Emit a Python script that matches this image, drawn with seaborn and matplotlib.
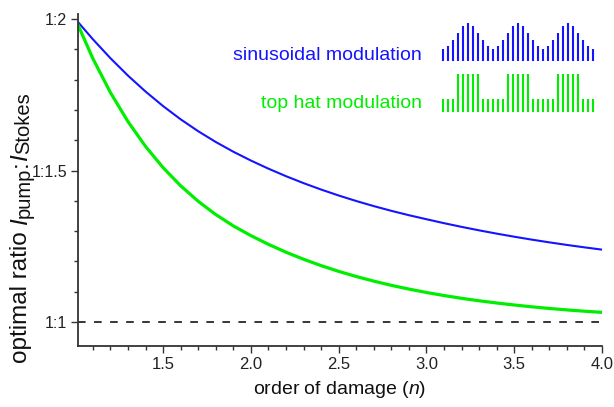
import numpy as np
import pandas as pd
import matplotlib
matplotlib.use("Agg")
import matplotlib.pyplot as plt
import seaborn as sns
from matplotlib.ticker import MultipleLocator, FuncFormatter, FormatStrFormatter

# ---- data ----
order_n = [1.0, 1.1, 1.2, 1.3, 1.4, 1.5, 1.6, 1.7, 1.8, 1.9, 2.0,
           2.1, 2.2, 2.3, 2.4, 2.5, 2.6, 2.7, 2.8, 2.9, 3.0,
           3.1, 3.2, 3.3, 3.4, 3.5, 3.6, 3.7, 3.8, 3.9, 4.0]
sinusoidal = [2.0000, 1.9330, 1.8705, 1.8130, 1.7605, 1.7125, 1.6689, 1.6296, 1.5941, 1.5620, 1.5329,
              1.5061, 1.4813, 1.4584, 1.4372, 1.4176, 1.3994, 1.3826, 1.3670, 1.3526, 1.3393,
              1.3263, 1.3141, 1.3026, 1.2918, 1.2816, 1.2720, 1.2630, 1.2545, 1.2465, 1.2390]
top_hat = [2.0000, 1.8690, 1.7570, 1.6612, 1.5793, 1.5093, 1.4495, 1.3983, 1.3546, 1.3172, 1.2852,
           1.2564, 1.2305, 1.2072, 1.1862, 1.1673, 1.1503, 1.1350, 1.1212, 1.1088, 1.0976,
           1.0875, 1.0784, 1.0702, 1.0629, 1.0563, 1.0503, 1.0449, 1.0401, 1.0358, 1.0319]
reference_level = 1.0

series_labels = ["sinusoidal modulation", "top hat modulation"]
y_ticks = [1.0, 1.5, 2.0]
x_ticks = [1.5, 2.0, 2.5, 3.0, 3.5, 4.0]

# legend glyph heights (relative)
sin_glyph = [0.32, 0.41, 0.57, 0.75, 0.93, 1.00, 0.93, 0.75, 0.57, 0.41,
             0.32, 0.41, 0.57, 0.75, 0.93, 1.00, 0.93, 0.75, 0.57, 0.41,
             0.32, 0.41, 0.57, 0.75, 0.93, 1.00, 0.93, 0.75, 0.57, 0.41, 0.32]
hat_glyph = [0.34, 0.34, 0.34, 1.0, 1.0, 1.0, 1.0, 1.0, 0.34, 0.34,
             0.34, 0.34, 0.34, 1.0, 1.0, 1.0, 1.0, 1.0, 0.34, 0.34,
             0.34, 0.34, 0.34, 1.0, 1.0, 1.0, 1.0, 1.0, 0.34, 0.34, 0.34]

BLUE = "#1414ff"
GREEN = "#00ee00"

sns.set_theme(style="ticks")
plt.rcParams["font.family"] = ["Liberation Sans", "DejaVu Sans"]
plt.rcParams["mathtext.fontset"] = "custom"
plt.rcParams["mathtext.rm"] = "Liberation Sans"
plt.rcParams["mathtext.it"] = "Liberation Sans:italic"
plt.rcParams["mathtext.sf"] = "Liberation Sans"

W, H = 614, 407
fig = plt.figure(figsize=(W / 100, H / 100), dpi=100)

def px_axes(x0, y0, x1, y1):
    # y measured from top in pixels
    return fig.add_axes([x0 / W, 1 - y1 / H, (x1 - x0) / W, (y1 - y0) / H])

ax = px_axes(78, 14, 602, 346)

df = pd.DataFrame({"n": order_n * 2,
                   "ratio": sinusoidal + top_hat,
                   "series": [series_labels[0]] * len(order_n) + [series_labels[1]] * len(order_n)})
sns.lineplot(data=df[df.series == series_labels[0]], x="n", y="ratio", color=BLUE,
             linewidth=1.5, ax=ax, legend=False)
sns.lineplot(data=df[df.series == series_labels[1]], x="n", y="ratio", color=GREEN,
             linewidth=2.3, ax=ax, legend=False)
ax.axhline(reference_level, color="black", linewidth=1.1, dashes=(5.0, 5.5))

ax.set_xlim(1.015, 4.0)
ax.set_ylim(0.921, 2.0165)
ax.set_xticks(x_ticks)
ax.set_yticks(y_ticks)
ax.xaxis.set_minor_locator(MultipleLocator(0.1))
ax.yaxis.set_minor_locator(MultipleLocator(0.1))
ax.xaxis.set_major_formatter(FormatStrFormatter("%.1f"))
ax.yaxis.set_major_formatter(FuncFormatter(lambda v, p: "1:%g" % v))
ax.set_xlabel("")
ax.set_ylabel("")
for s in ["top", "right"]:
    ax.spines[s].set_visible(False)
for s in ["left", "bottom"]:
    ax.spines[s].set_color("#333333")
    ax.spines[s].set_linewidth(1.3)
ax.tick_params(which="major", direction="out", length=5, width=1.0, color="#333333",
               labelsize=12, labelcolor="#222222", pad=3)
ax.tick_params(axis="y", which="major", labelsize=11.5)
ax.tick_params(which="minor", direction="out", length=2.8, width=1.0, color="#333333")

fig.text(340 / W, 1 - 390 / H, "order of damage ($\\mathit{n}$)", ha="center", va="center",
         fontsize=14, color="#111111")

# y label assembled from pieces (rotated 90 degrees, reading bottom to top)
renderer = fig.canvas.get_renderer()
pieces = [("optimal ratio ", 17.5, "normal", 0.0),
          ("I", 17.5, "italic", 0.0),
          ("pump", 14.5, "normal", 2.5),
          (":", 17.5, "normal", 0.0),
          ("I", 17.5, "italic", 0.0),
          ("Stokes", 14.5, "normal", 2.5)]
base_x = 27.0   # baseline position in px from left
cur_y = 363.0   # start position in px from top
for txt, size, style, shift in pieces:
    t = fig.text((base_x + shift) / W, 1 - cur_y / H, txt, rotation=90, rotation_mode="anchor",
                 ha="left", va="baseline", fontsize=size, fontstyle=style, color="#111111")
    ext = t.get_window_extent(renderer=renderer)
    cur_y -= ext.height

# legend texts
fig.text(422 / W, 1 - 60.5 / H, series_labels[0], ha="right", va="baseline",
         fontsize=14, color=BLUE)
fig.text(422 / W, 1 - 108 / H, series_labels[1], ha="right", va="baseline",
         fontsize=14, color=GREEN)

# legend glyphs
for glyph, color, ytop, ybot in [(sin_glyph, BLUE, 23.4, 61), (hat_glyph, GREEN, 73.6, 112)]:
    gax = px_axes(440.1, ytop, 595.3, ybot)
    idx = np.arange(len(glyph))
    gax.vlines(idx, 0, glyph, color=color, linewidth=1.5)
    gax.set_xlim(-0.5, len(glyph) - 0.5)
    gax.set_ylim(0, 1)
    gax.axis("off")

fig.savefig("out.png", dpi=100)
